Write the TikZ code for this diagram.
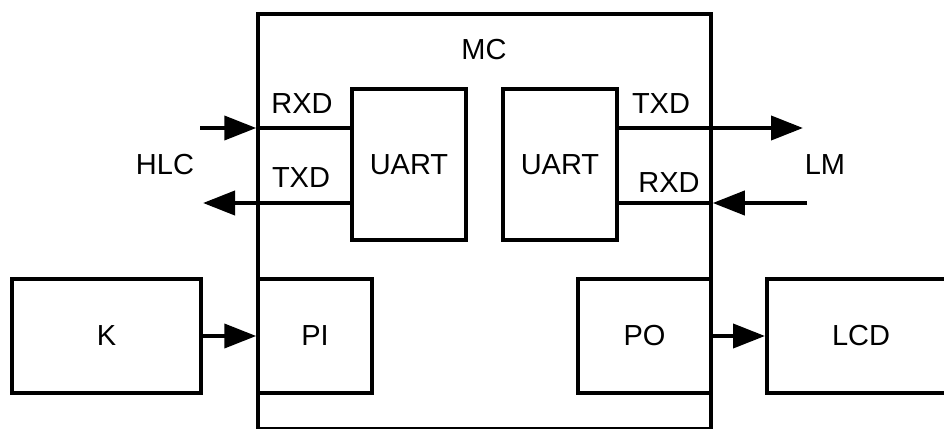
\documentclass[tikz,border=0pt]{standalone}
\usepackage{fontspec}
\setmainfont{Liberation Sans}
\usetikzlibrary{arrows.meta,positioning,calc}

\begin{document}
\begin{tikzpicture}[
   x=1pt,y=-1pt,
   every node/.style={font=\fontsize{29}{32}\selectfont,inner sep=0pt},
   blk/.style={draw,line width=4pt,minimum width=114pt,minimum height=114pt,
               align=center},
   mcbox/.style={draw,line width=3.5pt,minimum width=453pt,minimum height=415pt},
   sig/.style={line width=4pt,-{Triangle[length=32pt,width=24pt]}},
   wire/.style={line width=4pt},
   tag/.style={font=\fontsize{29}{32}\selectfont}
]
\useasboundingbox (0,0) rectangle (944,428);

% =========== controller ============
\node[mcbox] (mc) at (484.5,221.5) {};
\node[tag] (mcl) at (484,50) {MC};

\node[blk,minimum height=151pt] (uartL) at (409,164.5) {UART};
\node[blk,minimum height=151pt] (uartR) at (560,164.5) {UART};

% =========== host side ============
\coordinate (hlcin)  at (200,128);
\coordinate (hlcout) at (203,203);
\node[tag] (hlc) at (165,165) {HLC};

\draw[sig]  (hlcin) -- (hlcin -| mc.west);
\draw[wire] (hlcin -| mc.west) -- (hlcin -| uartL.west);
\draw[sig]  (hlcout -| uartL.west) -- (hlcout);
\node[tag] (rxdL) at (302,104) {RXD};
\node[tag] (txdL) at (301,178) {TXD};

% =========== module side ============
\coordinate (lmout) at (803,128);
\coordinate (lmin)  at (807,203);
\node[tag] (lm) at (825,165) {LM};

\draw[sig]  (lmout -| uartR.east) -- (lmout);
\draw[sig]  (lmin) -- (lmin -| mc.east);
\draw[wire] (lmin -| mc.east) -- (lmin -| uartR.east);
\node[tag] (txdR) at (661,104) {TXD};
\node[tag] (rxdR) at (669,183) {RXD};

% =========== ports ============
\node[blk,minimum width=189pt] (k)  at (106.5,336) {K};
\node[blk] (pi) at (315,336) {PI};
\node[blk,minimum width=133pt] (po) at (644.5,336) {PO};
\node[blk,minimum width=188pt] (lcd) at (861,336) {LCD};

\draw[sig] (k.east) -- (k.east -| mc.west);
\draw[sig] (po.east) -- (lcd.west);

\end{tikzpicture}
\end{document}
